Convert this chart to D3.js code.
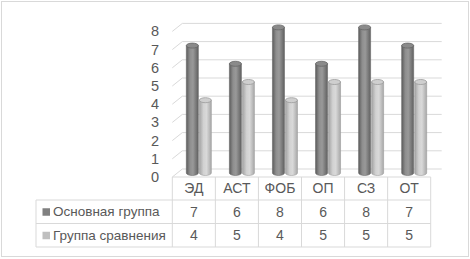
<!DOCTYPE html>
<html>
<head>
<meta charset="utf-8">
<script src="https://cdn.jsdelivr.net/npm/d3@7"></script>
<style>
  body { margin: 0; background: #fff; }
  svg { display: block; }
</style>
</head>
<body>
<svg id="drawing_region"></svg>
<script>
const categories = ['ЭД', 'АСТ', 'ФОБ', 'ОП', 'СЗ', 'ОТ'];
const seriesNames = ['Основная группа', 'Группа сравнения'];
const mainGroup = [7, 6, 8, 6, 8, 7];
const compareGroup = [4, 5, 4, 5, 5, 5];
const yTicks = [0, 1, 2, 3, 4, 5, 6, 7, 8];

const width = 470;
const height = 259;
const font = '"Liberation Sans", Arial, sans-serif';
const textColor = '#595959';
const lineColor = '#d9d9d9';

// 3D depth offset of the back wall
const depthX = 10;
const depthY = -8;

const svg = d3.select('#drawing_region')
    .attr('width', width)
    .attr('height', height);

// outer frame
svg.append('rect')
    .attr('x', 1.5).attr('y', 1.5)
    .attr('width', 467).attr('height', 255)
    .attr('fill', '#fff')
    .attr('stroke', lineColor);

const xscale = d3.scaleBand()
    .domain(categories)
    .range([172.3, 430.7]);

// front plane of the y axis
const yscale = d3.scaleLinear()
    .domain([0, 8])
    .range([177, 31.4]);

const defs = svg.append('defs');
function gradient(id, stops) {
    const g = defs.append('linearGradient')
        .attr('id', id)
        .attr('x1', 0).attr('x2', 1).attr('y1', 0).attr('y2', 0);
    stops.forEach(s => g.append('stop').attr('offset', s[0]).attr('stop-color', s[1]));
}
gradient('darkBody', [[0, '#5c5c5c'], [0.3, '#8e8e8e'], [0.55, '#999999'], [1, '#616161']]);
gradient('lightBody', [[0, '#a3a3a3'], [0.35, '#d2d2d2'], [0.6, '#d9d9d9'], [1, '#a8a8a8']]);

const x0 = xscale.range()[0];
const x1 = xscale.range()[1];

// gridlines: side wall diagonal + back wall horizontal
const grid = svg.append('g')
    .attr('stroke', lineColor)
    .attr('fill', 'none');

yTicks.forEach(t => {
    const yf = yscale(t);
    grid.append('path')
        .attr('d', `M${x0},${yf} L${x0 + depthX},${yf + depthY} L${x1 + depthX + 1},${yf + depthY}`);
});

// tick labels
svg.append('g')
    .selectAll('text')
    .data(yTicks)
    .join('text')
    .attr('x', 159)
    .attr('y', d => yscale(d))
    .attr('dy', '0.35em')
    .attr('text-anchor', 'end')
    .attr('font-family', font)
    .attr('font-size', 14.5)
    .attr('fill', textColor)
    .text(d => d);

// cylinders
const barW = 12;
const gap = 1;
const ry = 2.5;
const bars = [];
categories.forEach((c, i) => {
    bars.push({ cat: c, v: mainGroup[i], k: 0 });
    bars.push({ cat: c, v: compareGroup[i], k: 1 });
});

const bandCenter = c => xscale(c) + xscale.bandwidth() / 2 + depthX / 2;

const cyl = svg.append('g')
    .selectAll('g')
    .data(bars)
    .join('g');

cyl.each(function (d) {
    const g = d3.select(this);
    const left = bandCenter(d.cat) - barW - gap / 2 + d.k * (barW + gap);
    const top = yscale(d.v) + depthY / 2;
    const bottom = yscale(0) + depthY / 2;
    const rx = barW / 2;
    const cx = left + rx;
    const body = d.k === 0 ? 'url(#darkBody)' : 'url(#lightBody)';
    const edge = d.k === 0 ? '#666666' : '#9a9a9a';
    g.append('path')
        .attr('d', `M${left},${top} L${left},${bottom} A${rx},${ry} 0 0 0 ${left + barW},${bottom} L${left + barW},${top} Z`)
        .attr('fill', body)
        .attr('stroke', edge)
        .attr('stroke-width', 0.6);
    g.append('ellipse')
        .attr('cx', cx).attr('cy', top)
        .attr('rx', rx).attr('ry', ry)
        .attr('fill', d.k === 0 ? '#8a8a8a' : '#cfcfcf')
        .attr('stroke', edge)
        .attr('stroke-width', 0.8);
});

// data table
const rowTop = [177, 200, 223.5, 247];
const tableLeft = 36;
const table = svg.append('g')
    .attr('stroke', lineColor)
    .attr('fill', 'none');

table.append('path').attr('d', `M${x0},${rowTop[0]} H${x1}`);
table.append('path').attr('d', `M${tableLeft},${rowTop[1]} H${x1}`);
table.append('path').attr('d', `M${tableLeft},${rowTop[2]} H${x1}`);
table.append('path').attr('d', `M${tableLeft},${rowTop[3]} H${x1}`);
table.append('path').attr('d', `M${tableLeft},${rowTop[1]} V${rowTop[3]}`);
categories.forEach(c => {
    table.append('path').attr('d', `M${xscale(c)},${rowTop[0]} V${rowTop[3]}`);
});
table.append('path').attr('d', `M${x1},${rowTop[0]} V${rowTop[3]}`);

const cellText = svg.append('g')
    .attr('font-family', font)
    .attr('font-size', 14)
    .attr('fill', textColor)
    .attr('text-anchor', 'middle');

cellText.selectAll('text.cat')
    .data(categories)
    .join('text')
    .attr('class', 'cat')
    .attr('x', d => xscale(d) + xscale.bandwidth() / 2)
    .attr('y', (rowTop[0] + rowTop[1]) / 2)
    .attr('dy', '0.35em')
    .text(d => d);

[mainGroup, compareGroup].forEach((vals, r) => {
    cellText.selectAll(`text.r${r}`)
        .data(vals)
        .join('text')
        .attr('class', `r${r}`)
        .attr('x', (d, i) => xscale(categories[i]) + xscale.bandwidth() / 2)
        .attr('y', (rowTop[r + 1] + rowTop[r + 2]) / 2)
        .attr('dy', '0.35em')
        .text(d => d);
});

// legend keys in the table
const legendColors = ['#808080', '#bfbfbf'];
seriesNames.forEach((name, r) => {
    const yc = (rowTop[r + 1] + rowTop[r + 2]) / 2;
    svg.append('rect')
        .attr('x', 42.5).attr('y', yc - 3.5)
        .attr('width', 7.5).attr('height', 7.5)
        .attr('fill', legendColors[r]);
    svg.append('text')
        .attr('x', 53)
        .attr('y', yc)
        .attr('dy', '0.35em')
        .attr('font-family', font)
        .attr('font-size', 13.5)
        .attr('fill', textColor)
        .text(name);
});
</script>
</body>
</html>
